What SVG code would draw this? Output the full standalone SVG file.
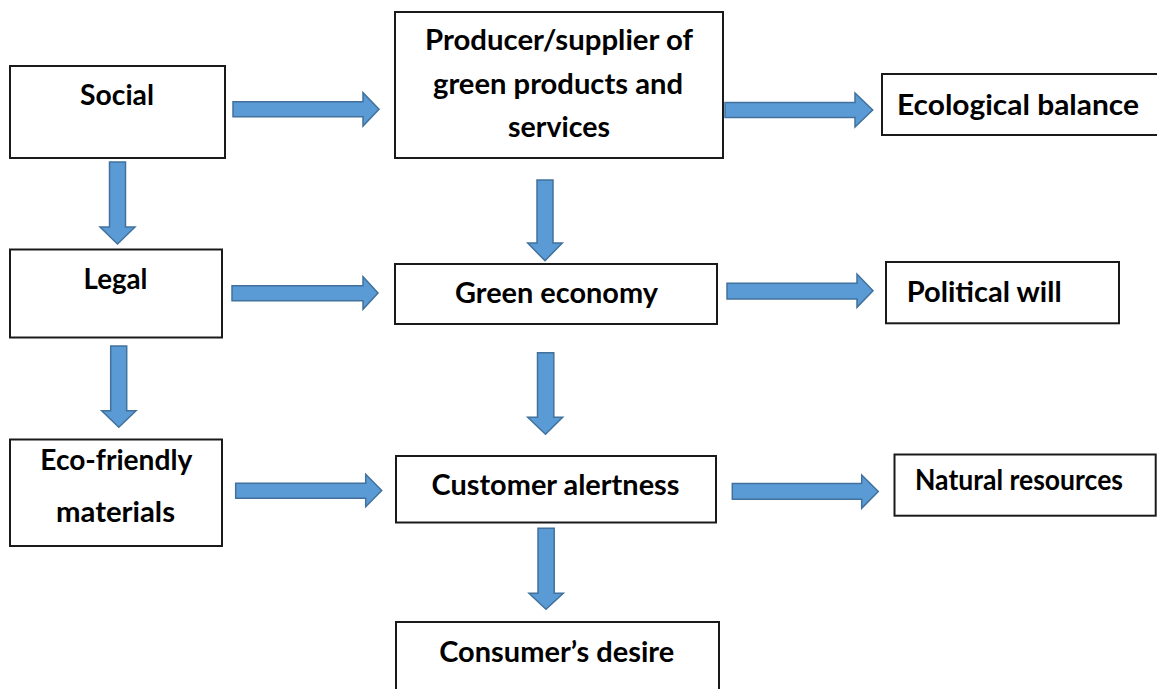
<svg xmlns="http://www.w3.org/2000/svg" width="1157" height="689" viewBox="0 0 1157 689">
<style>
.box{fill:#fff;stroke:#1a1a1a;stroke-width:2}
.arr{fill:#5B9BD5;stroke:#41719C;stroke-width:1.5;stroke-linejoin:miter}
.t{font-family:Lato,"Open Sans","Liberation Sans",sans-serif;font-weight:bold;font-size:28px;fill:#000}
.c{text-anchor:middle}
</style>
<rect width="1157" height="689" fill="#fff"/>
<g id="connectors">
<polygon class="arr" points="233,101.7 363,101.7 363,92.7 379,109.2 363,126 363,116.7 233,116.7"/>
<polygon class="arr" points="725,102.5 855,102.5 855,93 872.7,110 855,127 855,117.5 725,117.5"/>
<polygon class="arr" points="232,285.7 363,285.7 363,276.7 378,293 363,309.3 363,300.7 232,300.7"/>
<polygon class="arr" points="727,283.3 857,283.3 857,274 873,290.7 857,307.3 857,299 727,299"/>
<polygon class="arr" points="235.7,483.3 365.7,483.3 365.7,474.3 381.7,490.5 365.7,506.7 365.7,498.3 235.7,498.3"/>
<polygon class="arr" points="732.3,483.5 861.7,483.5 861.7,475 878.3,491.5 861.7,508.3 861.7,499.3 732.3,499.3"/>
<polygon class="arr" points="109.5,162 125.5,162 125.5,227 135,227 117.5,244 100,227 109.5,227"/>
<polygon class="arr" points="110.7,346 126.7,346 126.7,410.7 136,410.7 118.8,427.3 101.7,410.7 110.7,410.7"/>
<polygon class="arr" points="537,180 553,180 553,243 562.3,243 545,260.7 527.7,243 537,243"/>
<polygon class="arr" points="537.5,352.7 553.8,352.7 553.8,417.3 562.7,417.3 545.5,434.3 527.7,417.3 537.5,417.3"/>
<polygon class="arr" points="538,528.3 554.2,528.3 554.2,593.3 563.3,593.3 546,609.3 529,593.3 538,593.3"/>
</g>
<g id="social"><rect class="box" x="10" y="66" width="215" height="92"/><text class="t c" x="117" y="105" textLength="74" lengthAdjust="spacingAndGlyphs">Social</text></g>
<g id="legal"><rect class="box" x="10" y="249.5" width="212" height="88"/><text class="t c" x="115.5" y="289" textLength="64" lengthAdjust="spacingAndGlyphs">Legal</text></g>
<g id="eco-friendly"><rect class="box" x="10" y="439.5" width="212" height="106.5"/><text class="t c" x="116.3" y="470" textLength="152" lengthAdjust="spacingAndGlyphs">Eco-friendly</text><text class="t c" x="115.5" y="521.5" textLength="119" lengthAdjust="spacingAndGlyphs">materials</text></g>
<g id="producer"><rect class="box" x="395" y="12" width="328" height="146"/><text class="t c" x="559" y="50" textLength="268" lengthAdjust="spacingAndGlyphs">Producer/supplier of</text><text class="t c" x="558" y="93.5" textLength="250" lengthAdjust="spacingAndGlyphs">green products and</text><text class="t c" x="559" y="137" textLength="102" lengthAdjust="spacingAndGlyphs">services</text></g>
<g id="green-economy"><rect class="box" x="395" y="264" width="322" height="60"/><text class="t c" x="556.5" y="303" textLength="203" lengthAdjust="spacingAndGlyphs">Green economy</text></g>
<g id="customer-alertness"><rect class="box" x="396" y="456" width="320" height="66.5"/><text class="t c" x="555.5" y="495" textLength="248" lengthAdjust="spacingAndGlyphs">Customer alertness</text></g>
<g id="consumers-desire"><rect class="box" x="396" y="622" width="323" height="90"/><text class="t c" x="556.7" y="661.7" textLength="235" lengthAdjust="spacingAndGlyphs">Consumer’s desire</text></g>
<g id="ecological-balance"><rect class="box" x="882" y="74" width="290" height="61"/><text class="t" x="897" y="115" textLength="242" lengthAdjust="spacingAndGlyphs">Ecological balance</text></g>
<g id="political-will"><rect class="box" x="886" y="262" width="233" height="61.3"/><text class="t" x="906.7" y="301.7" textLength="155" lengthAdjust="spacingAndGlyphs">Political will</text></g>
<g id="natural-resources"><rect class="box" x="894.5" y="454.5" width="261.2" height="61.2"/><text class="t" x="915" y="490" font-size="25.5" textLength="208" lengthAdjust="spacingAndGlyphs">Natural resources</text></g>
</svg>
